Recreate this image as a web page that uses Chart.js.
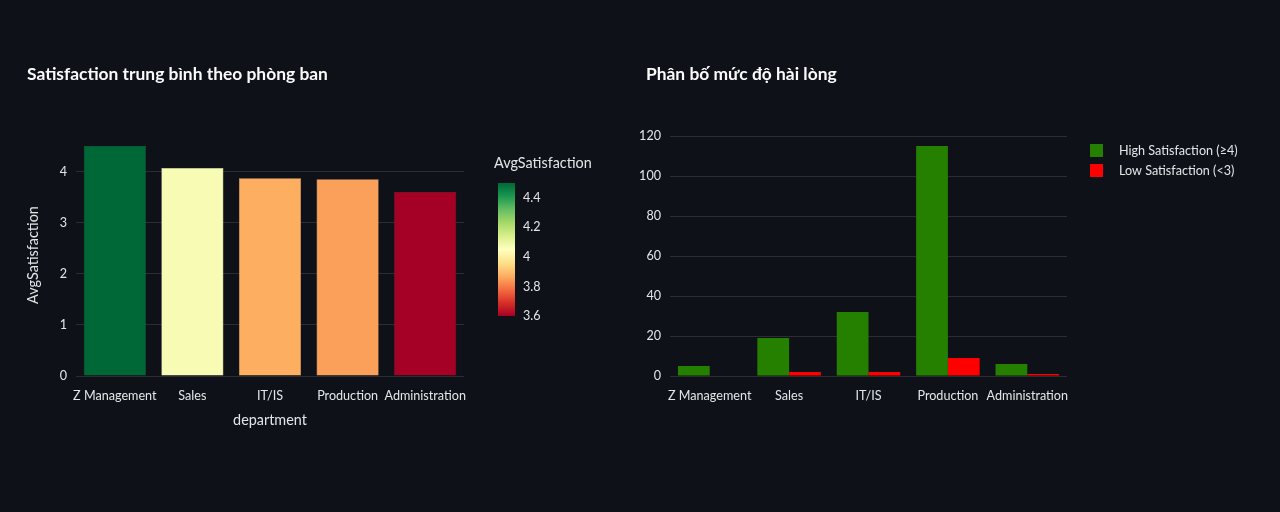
<!DOCTYPE html>
<html><head><meta charset="utf-8">
<script src="https://cdn.jsdelivr.net/npm/chart.js@4.4.0/dist/chart.umd.min.js"></script>
<style>
html,body{margin:0;padding:0;background:#0e1117;}
#wrap{position:relative;width:1280px;height:512px;}
#c1{position:absolute;left:0;top:0;}
#c2{position:absolute;left:620px;top:0;}
canvas{display:block;}
</style></head><body>
<div id="wrap"><canvas id="c1" width="640" height="512"></canvas><canvas id="c2" width="660" height="512"></canvas></div>
<script>
// ---- data ----
const departments = ['Z Management', 'Sales', 'IT/IS', 'Production', 'Administration'];
const avgSatisfaction = [4.50, 4.07, 3.87, 3.85, 3.60];
const highSatisfaction = [5, 19, 32, 115, 6];
const lowSatisfaction = [0, 2, 2, 9, 1];
const leftYTicks = [0, 1, 2, 3, 4];
const rightYTicks = [0, 20, 40, 60, 80, 100, 120];
const colorbarTicks = [3.6, 3.8, 4.0, 4.2, 4.4];
const leftTitle = 'Satisfaction trung bình theo phòng ban';
const rightTitle = 'Phân bố mức độ hài lòng';
const seriesLabels = ['High Satisfaction (≥4)', 'Low Satisfaction (<3)'];
const xAxisTitle = 'department';
const yAxisTitle = 'AvgSatisfaction';

// ---- styles ----
const FONT = "Lato, 'Noto Sans', sans-serif";
const TICK = '#e4e5e8';
const TITLE = '#fafafa';
const GRID = 'rgba(255,255,255,0.12)';
const HIGH_COLOR = 'rgb(38,128,0)';
const LOW_COLOR = 'rgb(255,0,0)';
const TICK_SIZE = 12.6;
const RdYlGn = [[0,'#a50026'],[0.1,'#d73027'],[0.2,'#f46d43'],[0.3,'#fdae61'],[0.4,'#fee08b'],[0.5,'#ffffbf'],[0.6,'#d9ef8b'],[0.7,'#a6d96a'],[0.8,'#66bd63'],[0.9,'#1a9850'],[1,'#006837']];

function hex2rgb(h){return [parseInt(h.slice(1,3),16),parseInt(h.slice(3,5),16),parseInt(h.slice(5,7),16)];}
function scaleRGB(t){
  t=Math.max(0,Math.min(1,t));
  for(let i=1;i<RdYlGn.length;i++){
    if(t<=RdYlGn[i][0]){
      const [t0,c0]=RdYlGn[i-1],[t1,c1]=RdYlGn[i];
      const f=(t-t0)/(t1-t0);const a=hex2rgb(c0),b=hex2rgb(c1);
      return a.map((v,k)=>Math.round(v+(b[k]-v)*f));
    }
  }
  return hex2rgb(RdYlGn[RdYlGn.length-1][1]);
}
const cmin = Math.min(...avgSatisfaction), cmax = Math.max(...avgSatisfaction);
const barColors = avgSatisfaction.map(v => 'rgb(' + scaleRGB((v-cmin)/(cmax-cmin)).join(',') + ')');
const barBorders = avgSatisfaction.map(v => 'rgb(' + scaleRGB((v-cmin)/(cmax-cmin)).map(x=>Math.min(255,x+25)).join(',') + ')');

Chart.defaults.font.family = FONT;
Chart.defaults.color = TICK;

const colorbarPlugin = {
  id: 'colorbar',
  afterDraw(chart){
    const ctx = chart.ctx, ca = chart.chartArea;
    const x = ca.right + 34, w = 17, top = 183, bottom = 316;
    ctx.save();
    ctx.fillStyle = TICK;
    ctx.font = "14.4px " + FONT;
    ctx.textAlign = 'left'; ctx.textBaseline = 'middle';
    ctx.fillText(yAxisTitle, ca.right + 30, 163);
    const g = ctx.createLinearGradient(0, bottom, 0, top);
    RdYlGn.forEach(([s,c]) => g.addColorStop(s, c));
    ctx.fillStyle = g;
    ctx.fillRect(x, top, w, bottom - top);
    ctx.font = TICK_SIZE + "px " + FONT;
    ctx.fillStyle = TICK;
    colorbarTicks.forEach(v => {
      const y = bottom - (v - cmin) / (cmax - cmin) * (bottom - top);
      ctx.fillText(String(v), x + w + 8, y);
    });
    ctx.restore();
  }
};

const legendPlugin = {
  id: 'customLegend',
  afterDraw(chart){
    const ctx = chart.ctx, ca = chart.chartArea;
    const x = ca.right + 23;
    ctx.save();
    ctx.font = TICK_SIZE + "px " + FONT;
    ctx.textAlign = 'left'; ctx.textBaseline = 'middle';
    chart.data.datasets.forEach((ds, i) => {
      const y = ca.top + 10 + i * 20;
      ctx.fillStyle = ds.backgroundColor;
      ctx.fillRect(x, y, 13, 13);
      ctx.fillStyle = TICK;
      ctx.fillText(ds.label, x + 29, y + 7);
    });
    ctx.restore();
  }
};

const titleOpts = (text) => ({
  display: true, text, align: 'start', color: TITLE,
  font: {family: FONT, size: 17.4, weight: 'bold', lineHeight: 1.2},
  padding: {top: 64.2, bottom: 48.9}
});

const noLabelClip = (s) => { s._computeLabelArea = () => undefined; };

new Chart(document.getElementById('c1'), {
  type: 'bar',
  data: {labels: departments, datasets: [{label: yAxisTitle, data: avgSatisfaction, backgroundColor: barColors, borderColor: barBorders, borderWidth: 0.5, barPercentage: 0.8, categoryPercentage: 1}]},
  options: {
    responsive: false, animation: false, devicePixelRatio: 1,
    layout: {padding: {left: 27, right: 176, top: 0, bottom: 82.6}},
    plugins: {legend: {display: false}, tooltip: {enabled: false}, title: titleOpts(leftTitle)},
    scales: {
      x: {
        grid: {display: false}, border: {display: false},
        ticks: {color: TICK, font: {size: TICK_SIZE}, padding: 4, maxRotation: 0, autoSkip: false},
        title: {display: true, text: xAxisTitle, color: TICK, font: {size: 14.4, lineHeight: 1.2}, padding: 0},
        afterFit(s){ s.height = 53.4; noLabelClip(s); }
      },
      y: {
        min: 0, max: cmax * 1.0526,
        grid: {color: GRID, drawTicks: false}, border: {display: false},
        ticks: {color: TICK, font: {size: TICK_SIZE}, padding: 9},
        afterBuildTicks(s){ s.ticks = leftYTicks.map(v => ({value: v})); },
        title: {display: true, text: yAxisTitle, color: TICK, font: {size: 14.4, lineHeight: 1.0}, padding: {top: -1, bottom: 0}},
        afterFit(s){ s.width = 49; noLabelClip(s); }
      }
    }
  },
  plugins: [colorbarPlugin]
});

new Chart(document.getElementById('c2'), {
  type: 'bar',
  data: {labels: departments, datasets: [
    {label: seriesLabels[0], data: highSatisfaction, backgroundColor: HIGH_COLOR, borderWidth: 0, barPercentage: 1, categoryPercentage: 0.8},
    {label: seriesLabels[1], data: lowSatisfaction, backgroundColor: LOW_COLOR, borderWidth: 0, barPercentage: 1, categoryPercentage: 0.8}
  ]},
  options: {
    responsive: false, animation: false, devicePixelRatio: 1,
    layout: {padding: {left: 26, right: 213, top: 0, bottom: 96}},
    plugins: {legend: {display: false}, tooltip: {enabled: false}, title: titleOpts(rightTitle)},
    scales: {
      x: {
        grid: {display: false}, border: {display: false},
        ticks: {color: TICK, font: {size: TICK_SIZE}, padding: 4, maxRotation: 0, autoSkip: false},
        afterFit(s){ s.height = 40; noLabelClip(s); }
      },
      y: {
        min: 0, max: Math.max(...highSatisfaction, ...lowSatisfaction) * 1.0526,
        grid: {color: GRID, drawTicks: false}, border: {display: false},
        ticks: {color: TICK, font: {size: TICK_SIZE}, padding: 9},
        afterBuildTicks(s){ s.ticks = rightYTicks.map(v => ({value: v})); },
        afterFit(s){ s.width = 24; noLabelClip(s); }
      }
    }
  },
  plugins: [legendPlugin]
});
</script>
</body></html>
